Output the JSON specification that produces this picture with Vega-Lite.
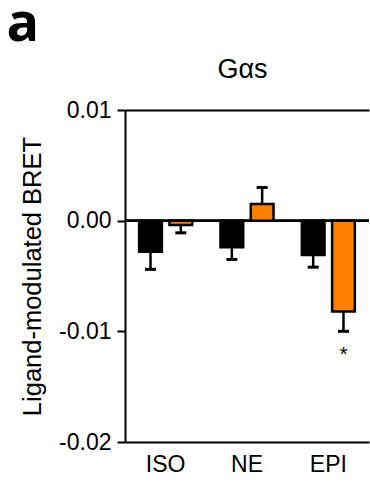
{
  "$schema": "https://vega.github.io/schema/vega-lite/v6.json",
  "autosize": "none",
  "padding": {"left": 125, "top": 110, "right": 1, "bottom": 43},
  "width": 244,
  "height": 332,
  "title": {"text": "a", "anchor": "start", "frame": "bounds", "font": "Open Sans", "fontSize": 54, "fontWeight": "bold", "color": "#000000", "dx": -14, "offset": 0, "dy": -3},
  "config": {"view": {"stroke": null}, "font": "Liberation Sans"},
  "data": {"values": [
    {"Stim": "ISO", "Series": "Series 1", "value": -0.0028, "errEnd": -0.0044, "sig": ""},
    {"Stim": "ISO", "Series": "Series 2", "value": -0.0004, "errEnd": -0.0011, "sig": ""},
    {"Stim": "NE", "Series": "Series 1", "value": -0.0024, "errEnd": -0.0035, "sig": ""},
    {"Stim": "NE", "Series": "Series 2", "value": 0.0015, "errEnd": 0.0030, "sig": ""},
    {"Stim": "EPI", "Series": "Series 1", "value": -0.0031, "errEnd": -0.0042, "sig": ""},
    {"Stim": "EPI", "Series": "Series 2", "value": -0.0082, "errEnd": -0.0100, "sig": "*"}
  ]},
  "resolve": {"axis": {"x": "independent"}},
  "layer": [
    {
      "mark": {"type": "rule", "color": "#000000", "strokeWidth": 2},
      "encoding": {"y": {"datum": 0, "type": "quantitative"}}
    },
    {
      "mark": {"type": "rule", "color": "#000000", "strokeWidth": 2.5},
      "encoding": {
        "x": {"field": "Stim", "type": "nominal", "sort": ["ISO", "NE", "EPI"], "scale": {"paddingInner": 0, "paddingOuter": 0}, "axis": null},
        "xOffset": {"field": "Series", "type": "nominal", "scale": {"paddingInner": 0.25, "paddingOuter": 0.467}},
        "y": {"field": "value", "type": "quantitative"},
        "y2": {"field": "errEnd"}
      }
    },
    {
      "mark": {"type": "tick", "color": "#000000", "orient": "horizontal", "size": 11, "thickness": 3, "opacity": 1},
      "encoding": {
        "x": {"field": "Stim", "type": "nominal", "sort": ["ISO", "NE", "EPI"], "axis": null},
        "xOffset": {"field": "Series", "type": "nominal"},
        "y": {"field": "errEnd", "type": "quantitative"}
      }
    },
    {
      "mark": {"type": "bar", "stroke": "#000000", "strokeWidth": 2.5, "opacity": 1},
      "encoding": {
        "x": {"field": "Stim", "type": "nominal", "sort": ["ISO", "NE", "EPI"],
          "axis": {"orient": "bottom", "title": null, "labelAngle": 0, "labelFontSize": 23, "labelColor": "#000000", "labelPadding": 11, "ticks": false, "domainColor": "#000000", "domainWidth": 2, "labelFont": "Liberation Sans"}},
        "xOffset": {"field": "Series", "type": "nominal"},
        "y": {"field": "value", "type": "quantitative",
          "scale": {"domain": [-0.02, 0.01], "nice": false, "zero": false},
          "axis": {"title": "Ligand-modulated BRET", "titleFontSize": 25.5, "titleFontWeight": "normal", "titleColor": "#000000", "titlePadding": 13, "titleFont": "Liberation Sans",
            "values": [-0.02, -0.01, 0, 0.01], "labelExpr": "datum.value < -0.000001 ? '-' + format(abs(datum.value), '.2f') : format(abs(datum.value), '.2f')",
            "labelFontSize": 23, "labelColor": "#000000", "labelPadding": 6, "labelFont": "Liberation Sans",
            "tickSize": 8, "tickWidth": 2, "tickColor": "#000000", "domainColor": "#000000", "domainWidth": 2, "grid": false}},
        "color": {"field": "Series", "type": "nominal", "scale": {"domain": ["Series 1", "Series 2"], "range": ["#000000", "#ff8000"]}, "legend": null}
      }
    },
    {
      "mark": {"type": "text", "fontSize": 21, "baseline": "top", "dy": 13, "color": "#000000"},
      "encoding": {
        "x": {"field": "Stim", "type": "nominal", "sort": ["ISO", "NE", "EPI"],
          "axis": {"orient": "top", "title": "Gαs", "titleFontSize": 27, "titleFontWeight": "normal", "titleColor": "#000000", "titleFont": "Liberation Sans", "titlePadding": 27, "labels": false, "ticks": false, "domainColor": "#000000", "domainWidth": 2, "titleAnchor": "middle", "titleX": 117}},
        "xOffset": {"field": "Series", "type": "nominal"},
        "y": {"field": "errEnd", "type": "quantitative"},
        "text": {"field": "sig"}
      }
    }
  ]
}
